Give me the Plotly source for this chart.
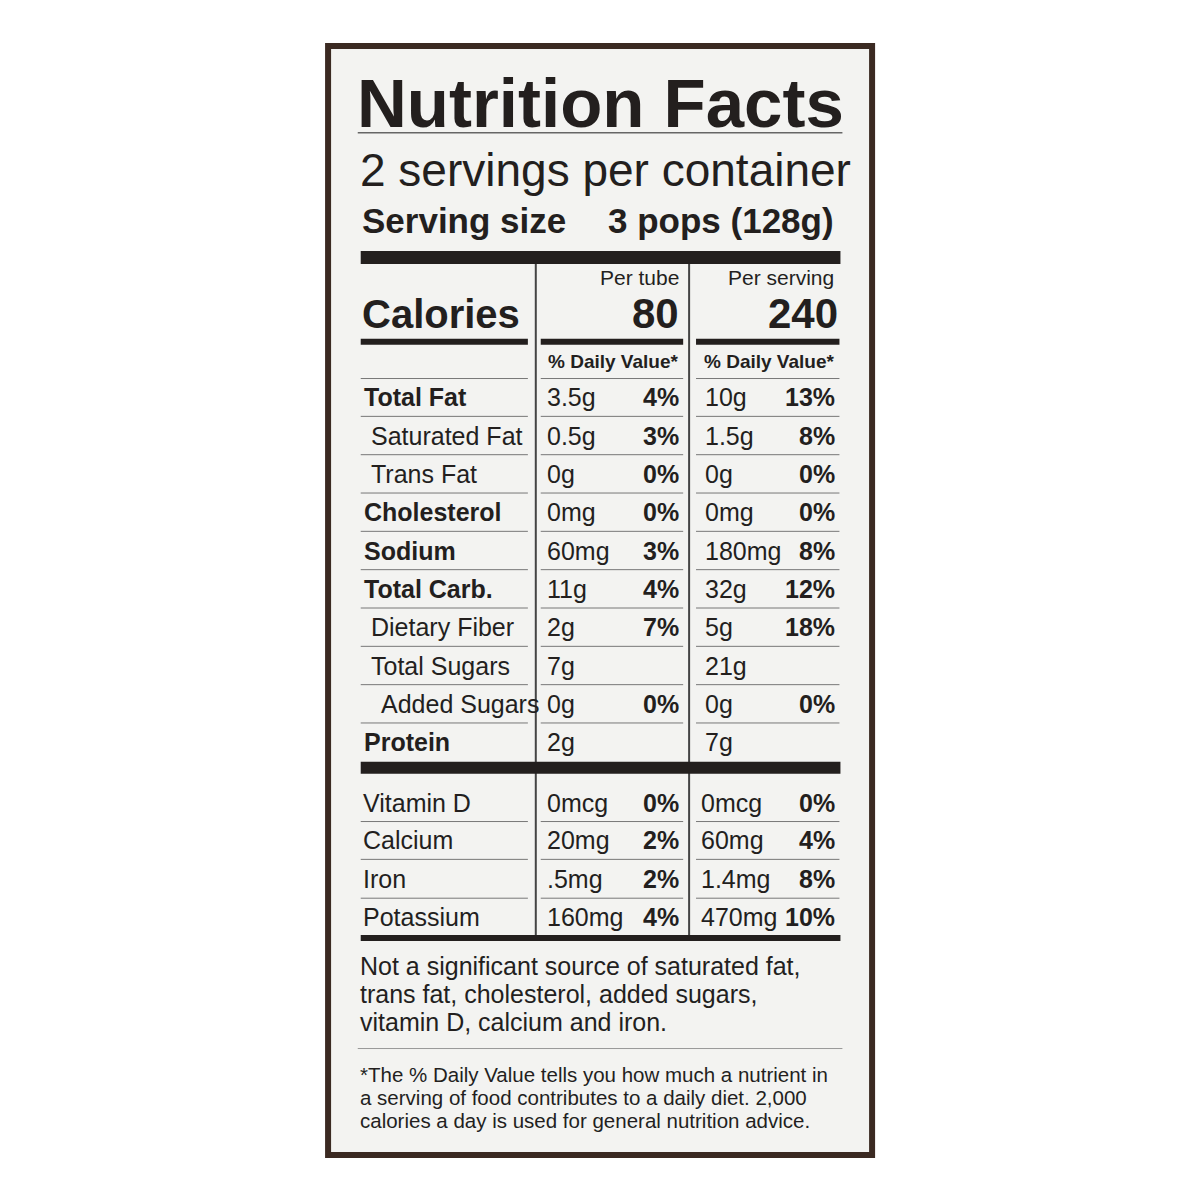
import plotly.graph_objects as go

names = ["Total Fat","Saturated Fat","Trans Fat","Cholesterol","Sodium","Total Carb.",
         "Dietary Fiber","Total Sugars","Added Sugars","Protein"]
indent = [0,1,1,0,0,0,1,1,2,0]
bold = [1,0,0,1,1,1,0,0,0,1]
tube_amt = ["3.5g","0.5g","0g","0mg","60mg","11g","2g","7g","0g","2g"]
tube_pct = ["4%","3%","0%","0%","3%","4%","7%","","0%",""]
serv_amt = ["10g","1.5g","0g","0mg","180mg","32g","5g","21g","0g","7g"]
serv_pct = ["13%","8%","0%","0%","8%","12%","18%","","0%",""]
vit_names = ["Vitamin D","Calcium","Iron","Potassium"]
vit_tube_amt = ["0mcg","20mg",".5mg","160mg"]
vit_tube_pct = ["0%","2%","2%","4%"]
vit_serv_amt = ["0mcg","60mg","1.4mg","470mg"]
vit_serv_pct = ["0%","4%","8%","10%"]
cal_tube, cal_serv = "80", "240"

F = "Liberation Sans"
INK = "#231f1e"
fig = go.Figure()
shapes, ann = [], []

def X(x): return (x-1.4)/1.011
def Y(y): return (y-4.8)/1.0045

def rect(x0,y0,x1,y1,fill=INK,line=None,lw=0,below=False):
    shapes.append(dict(type="rect",x0=X(x0),y0=Y(y0),x1=X(x1),y1=Y(y1),fillcolor=fill,
                       line=dict(color=line or fill,width=lw),layer="below" if below else "above"))
def hline(y,x0,x1,w=1,c="#777"):
    shapes.append(dict(type="line",x0=X(x0),x1=X(x1),y0=Y(y),y1=Y(y),line=dict(color=c,width=w)))
def vline(x,y0,y1,w=2,c="#444"):
    shapes.append(dict(type="line",x0=X(x),x1=X(x),y0=Y(y0),y1=Y(y1),line=dict(color=c,width=w)))
def txt(x,y,s,size=24,b=False,anchor="left",color=INK,fam=F):
    ann.append(dict(x=X(x),y=Y(y),text=("<b>%s</b>"%s) if b else s,showarrow=False,xanchor=anchor,
                    yanchor="middle",font=dict(family=fam,size=size,color=color)))

rect(325,43,875,1157,fill="#f3f3f1",line="#3b2a22",lw=6,below=True)
txt(352,101,"Nutrition Facts",69,True)
hline(130,355,845,1.5,"#666")
txt(355,168,"2 servings per container",46)
txt(357,218,"Serving size",35,True)
txt(838,218,"3 pops (128g)",35,True,"right")
rect(358,249,843,262)
vline(535,262,936)
vline(690,262,936)
txt(682,276,"Per tube",21,False,"right")
txt(682,312,cal_tube,42,True,"right")
txt(838,276,"Per serving",21,False,"right")
txt(843,312,cal_serv,42,True,"right")
txt(357,312,"Calories",40,True)
cols = [(358,527),(540,684),(697,842)]
for a,b in cols: rect(a,337,b,343)
txt(682,360,"% Daily Value*",19,True,"right")
txt(840,360,"% Daily Value*",19,True,"right")
for a,b in cols: hline(377,a,b)
ys = [396+38.5*i for i in range(10)]
for i,y in enumerate(ys):
    txt(359+indent[i]*7+(3 if indent[i]==2 else 0),y,names[i],25,bool(bold[i]))
    txt(544,y,tube_amt[i],25); txt(682,y,tube_pct[i],25,True,"right")
    txt(704,y,serv_amt[i],25); txt(840,y,serv_pct[i],25,True,"right")
    if i<9:
        for a,b in cols: hline(y+19,a,b)
rect(358,762,843,774)
vys = [803,841,880,918]
for i,y in enumerate(vys):
    txt(358,y,vit_names[i],25)
    txt(544,y,vit_tube_amt[i],25); txt(682,y,vit_tube_pct[i],25,True,"right")
    txt(700,y,vit_serv_amt[i],25); txt(840,y,vit_serv_pct[i],25,True,"right")
    if i<3:
        for a,b in cols: hline(y+19,a,b)
rect(358,936,843,942)
for y,s in zip([967,995,1023],["Not a significant source of saturated fat,",
               "trans fat, cholesterol, added sugars,","vitamin D, calcium and iron."]):
    txt(355,y,s,25)
hline(1050,355,845,1,"#999")
for y,s in zip([1076,1099,1122],["*The % Daily Value tells you how much a nutrient in",
               "a serving of food contributes to a daily diet. 2,000",
               "calories a day is used for general nutrition advice."]):
    txt(355,y,s,20.5)

fig.update_layout(width=1200,height=1200,margin=dict(l=0,r=0,t=0,b=0),
                  paper_bgcolor="white",plot_bgcolor="white",shapes=shapes,annotations=ann,
                  xaxis=dict(range=[0,1200],visible=False,fixedrange=True),
                  yaxis=dict(range=[1200,0],visible=False,fixedrange=True),showlegend=False)
fig.write_html("out.html")
